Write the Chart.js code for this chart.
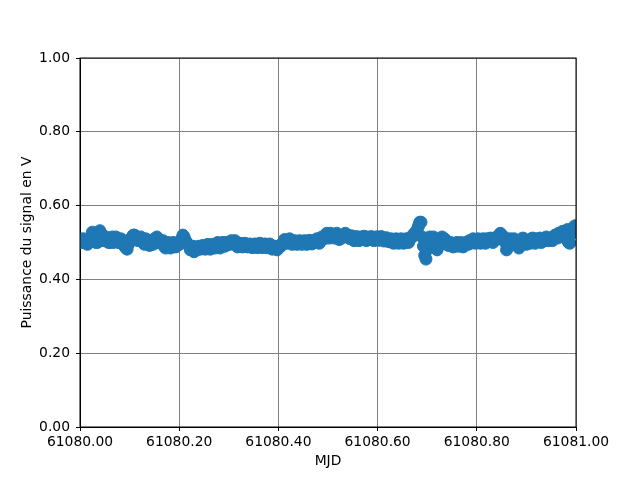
<!DOCTYPE html>
<html>
<head>
<meta charset="utf-8">
<script src="https://cdn.jsdelivr.net/npm/chart.js@4.4.1/dist/chart.umd.min.js"></script>
<style>
  html, body { margin: 0; padding: 0; background: #ffffff; }
  #wrap { width: 640px; height: 480px; }
</style>
</head>
<body>
<div id="wrap"><canvas id="mjdChart" width="640" height="480"></canvas></div>
<script>
// Puissance du signal sur une journée MJD (nuage de points)

const MJD_BASE = 61080;

// décalage en jours depuis MJD_BASE, échantillons sur les pas de 0.005 j
const mjdOffsets = [
    0.000, 0.005, 0.010, 0.015, 0.020, 0.025, 0.030, 0.035, 0.040, 0.045,
    0.050, 0.055, 0.060, 0.065, 0.070, 0.075, 0.080, 0.085, 0.090, 0.095,
    0.100, 0.105, 0.110, 0.115, 0.120, 0.125, 0.130, 0.135, 0.140, 0.145,
    0.150, 0.155, 0.160, 0.165, 0.170, 0.175, 0.180, 0.185, 0.190, 0.195,
    0.200, 0.205, 0.210, 0.215, 0.220, 0.225, 0.230, 0.235, 0.240, 0.245,
    0.250, 0.255, 0.260, 0.265, 0.270, 0.275, 0.280, 0.285, 0.290, 0.295,
    0.300, 0.305, 0.310, 0.315, 0.320, 0.325, 0.330, 0.335, 0.340, 0.345,
    0.350, 0.355, 0.360, 0.365, 0.370, 0.375, 0.380, 0.385, 0.390, 0.395,
    0.400, 0.405, 0.410, 0.415, 0.420, 0.425, 0.430, 0.435, 0.440, 0.445,
    0.450, 0.455, 0.460, 0.465, 0.470, 0.475, 0.480, 0.485, 0.490, 0.495,
    0.500, 0.505, 0.510, 0.515, 0.520, 0.525, 0.530, 0.535, 0.540, 0.545,
    0.550, 0.555, 0.560, 0.565, 0.570, 0.575, 0.580, 0.585, 0.590, 0.595,
    0.600, 0.605, 0.610, 0.615, 0.620, 0.625, 0.630, 0.635, 0.640, 0.645,
    0.650, 0.655, 0.660, 0.665, 0.670, 0.675, 0.680, 0.685, 0.690, 0.695,
    0.700, 0.705, 0.710, 0.715, 0.720, 0.725, 0.730, 0.735, 0.740, 0.745,
    0.750, 0.755, 0.760, 0.765, 0.770, 0.775, 0.780, 0.785, 0.790, 0.795,
    0.800, 0.805, 0.810, 0.815, 0.820, 0.825, 0.830, 0.835, 0.840, 0.845,
    0.850, 0.855, 0.860, 0.865, 0.870, 0.875, 0.880, 0.885, 0.890, 0.895,
    0.900, 0.905, 0.910, 0.915, 0.920, 0.925, 0.930, 0.935, 0.940, 0.945,
    0.950, 0.955, 0.960, 0.965, 0.970, 0.975, 0.980, 0.985, 0.990, 0.995,
    1.000
];

// puissance mesurée en V aux instants ci-dessus
const signalV = [
    0.510, 0.505, 0.500, 0.495, 0.505, 0.528, 0.510, 0.500, 0.532, 0.515,
    0.505, 0.510, 0.500, 0.515, 0.505, 0.510, 0.500, 0.505, 0.490, 0.482,
    0.500, 0.515, 0.520, 0.515, 0.510, 0.505, 0.495, 0.505, 0.492, 0.500,
    0.510, 0.515, 0.505, 0.500, 0.490, 0.495, 0.490, 0.495, 0.490, 0.490,
    0.495, 0.510, 0.515, 0.500, 0.490, 0.485, 0.475, 0.480, 0.490, 0.485,
    0.490, 0.485, 0.490, 0.485, 0.490, 0.495, 0.490, 0.495, 0.500, 0.495,
    0.500, 0.505, 0.500, 0.495, 0.490, 0.495, 0.490, 0.495, 0.490, 0.490,
    0.490, 0.495, 0.490, 0.495, 0.490, 0.495, 0.490, 0.490, 0.485, 0.485,
    0.485, 0.490, 0.500, 0.505, 0.505, 0.500, 0.500, 0.500, 0.500, 0.500,
    0.500, 0.500, 0.500, 0.500, 0.505, 0.500, 0.505, 0.505, 0.510, 0.520,
    0.520, 0.525, 0.520, 0.520, 0.515, 0.510, 0.520, 0.525, 0.520, 0.510,
    0.510, 0.510, 0.510, 0.515, 0.510, 0.510, 0.515, 0.510, 0.510, 0.510,
    0.515, 0.510, 0.510, 0.505, 0.510, 0.505, 0.500, 0.505, 0.500, 0.505,
    0.505, 0.500, 0.505, 0.510, 0.515, 0.525, 0.535, 0.555, 0.515, 0.465,
    0.480, 0.515, 0.505, 0.510, 0.480, 0.500, 0.515, 0.510, 0.500, 0.495,
    0.495, 0.490, 0.500, 0.495, 0.490, 0.495, 0.500, 0.505, 0.500, 0.505,
    0.505, 0.500, 0.505, 0.500, 0.510, 0.505, 0.510, 0.505, 0.515, 0.520,
    0.520, 0.515, 0.480, 0.500, 0.505, 0.510, 0.500, 0.485, 0.505, 0.510,
    0.495, 0.505, 0.510, 0.505, 0.510, 0.505, 0.500, 0.510, 0.515, 0.505,
    0.510, 0.515, 0.520, 0.525, 0.520, 0.530, 0.510, 0.500, 0.535, 0.540,
    0.545
];

// échantillons intermédiaires (entre deux pas de 0.005 j)
const mjdOffsetsMid = [
    0.0025, 0.0075, 0.0125, 0.0175, 0.0225, 0.0275, 0.0325, 0.0375, 0.0425, 0.0475,
    0.0525, 0.0575, 0.0625, 0.0675, 0.0725, 0.0775, 0.0825, 0.0875, 0.0925, 0.0975,
    0.1025, 0.1075, 0.1125, 0.1175, 0.1225, 0.1275, 0.1325, 0.1375, 0.1425, 0.1475,
    0.1525, 0.1575, 0.1625, 0.1675, 0.1725, 0.1775, 0.1825, 0.1875, 0.1925, 0.1975,
    0.2025, 0.2075, 0.2125, 0.2175, 0.2225, 0.2275, 0.2325, 0.2375, 0.2425, 0.2475,
    0.2525, 0.2575, 0.2625, 0.2675, 0.2725, 0.2775, 0.2825, 0.2875, 0.2925, 0.2975,
    0.3025, 0.3075, 0.3125, 0.3175, 0.3225, 0.3275, 0.3325, 0.3375, 0.3425, 0.3475,
    0.3525, 0.3575, 0.3625, 0.3675, 0.3725, 0.3775, 0.3825, 0.3875, 0.3925, 0.3975,
    0.4025, 0.4075, 0.4125, 0.4175, 0.4225, 0.4275, 0.4325, 0.4375, 0.4425, 0.4475,
    0.4525, 0.4575, 0.4625, 0.4675, 0.4725, 0.4775, 0.4825, 0.4875, 0.4925, 0.4975,
    0.5025, 0.5075, 0.5125, 0.5175, 0.5225, 0.5275, 0.5325, 0.5375, 0.5425, 0.5475,
    0.5525, 0.5575, 0.5625, 0.5675, 0.5725, 0.5775, 0.5825, 0.5875, 0.5925, 0.5975,
    0.6025, 0.6075, 0.6125, 0.6175, 0.6225, 0.6275, 0.6325, 0.6375, 0.6425, 0.6475,
    0.6525, 0.6575, 0.6625, 0.6675, 0.6725, 0.6775, 0.6825, 0.6875, 0.6925, 0.6975,
    0.7025, 0.7075, 0.7125, 0.7175, 0.7225, 0.7275, 0.7325, 0.7375, 0.7425, 0.7475,
    0.7525, 0.7575, 0.7625, 0.7675, 0.7725, 0.7775, 0.7825, 0.7875, 0.7925, 0.7975,
    0.8025, 0.8075, 0.8125, 0.8175, 0.8225, 0.8275, 0.8325, 0.8375, 0.8425, 0.8475,
    0.8525, 0.8575, 0.8625, 0.8675, 0.8725, 0.8775, 0.8825, 0.8875, 0.8925, 0.8975,
    0.9025, 0.9075, 0.9125, 0.9175, 0.9225, 0.9275, 0.9325, 0.9375, 0.9425, 0.9475,
    0.9525, 0.9575, 0.9625, 0.9675, 0.9725, 0.9775, 0.9825, 0.9875, 0.9925, 0.9975
];

const signalVMid = [
    0.500, 0.510, 0.505, 0.500, 0.515, 0.520, 0.500, 0.520, 0.525, 0.505,
    0.515, 0.500, 0.510, 0.500, 0.515, 0.500, 0.510, 0.495, 0.485, 0.495,
    0.510, 0.520, 0.510, 0.505, 0.515, 0.500, 0.510, 0.498, 0.505, 0.495,
    0.505, 0.510, 0.498, 0.505, 0.485, 0.500, 0.485, 0.500, 0.488, 0.495,
    0.505, 0.520, 0.505, 0.495, 0.480, 0.490, 0.478, 0.488, 0.482, 0.492,
    0.482, 0.495, 0.482, 0.495, 0.485, 0.500, 0.485, 0.500, 0.490, 0.500,
    0.495, 0.498, 0.505, 0.488, 0.498, 0.488, 0.498, 0.488, 0.496, 0.486,
    0.496, 0.486, 0.498, 0.486, 0.496, 0.486, 0.496, 0.482, 0.490, 0.480,
    0.492, 0.496, 0.508, 0.498, 0.510, 0.495, 0.505, 0.495, 0.505, 0.495,
    0.505, 0.495, 0.506, 0.496, 0.500, 0.510, 0.498, 0.515, 0.510, 0.525,
    0.512, 0.518, 0.512, 0.525, 0.508, 0.515, 0.515, 0.518, 0.512, 0.518,
    0.505, 0.516, 0.505, 0.508, 0.517, 0.505, 0.508, 0.516, 0.505, 0.515,
    0.506, 0.516, 0.504, 0.513, 0.502, 0.510, 0.498, 0.510, 0.498, 0.510,
    0.498, 0.510, 0.500, 0.515, 0.522, 0.530, 0.545, 0.555, 0.490, 0.455,
    0.500, 0.505, 0.515, 0.495, 0.490, 0.510, 0.500, 0.505, 0.492, 0.500,
    0.488, 0.498, 0.490, 0.500, 0.488, 0.500, 0.495, 0.498, 0.510, 0.498,
    0.510, 0.498, 0.510, 0.498, 0.505, 0.512, 0.500, 0.512, 0.510, 0.525,
    0.510, 0.500, 0.488, 0.510, 0.498, 0.505, 0.490, 0.498, 0.512, 0.500,
    0.505, 0.498, 0.512, 0.498, 0.502, 0.512, 0.505, 0.505, 0.508, 0.512,
    0.505, 0.520, 0.512, 0.515, 0.530, 0.520, 0.535, 0.498, 0.525, 0.545
];

const xTickLabels = ['61080.00', '61080.20', '61080.40', '61080.60', '61080.80', '61081.00'];
const yTickLabels = ['0.00', '0.20', '0.40', '0.60', '0.80', '1.00'];

const BLUE = '#1f77b4';
const FONT = { family: 'DejaVu Sans', size: 13.89 };

// cadre noir autour de la zone de tracé (comme les 4 axes matplotlib)
const frame = {
    id: 'frame',
    afterDraw(chart) {
        const { ctx, chartArea: a } = chart;
        ctx.save();
        ctx.strokeStyle = '#000';
        ctx.lineWidth = 1;
        ctx.strokeRect(a.left, a.top, a.right - a.left, a.bottom - a.top);
        ctx.restore();
    }
};

const points = mjdOffsets.map((d, i) => ({ x: MJD_BASE + d, y: signalV[i] }))
    .concat(mjdOffsetsMid.map((d, i) => ({ x: MJD_BASE + d, y: signalVMid[i] })));

const ctx = document.getElementById('mjdChart').getContext('2d');
new Chart(ctx, {
    type: 'scatter',
    data: {
        datasets: [{
            data: points,
            backgroundColor: BLUE,
            borderColor: BLUE,
            borderWidth: 1,
            pointRadius: 6,
            pointHoverRadius: 6
        }]
    },
    options: {
        responsive: false,
        animation: false,
        layout: { padding: { top: 58, right: 64, left: 0, bottom: 0 } },
        plugins: {
            legend: { display: false },
            tooltip: { enabled: false }
        },
        scales: {
            x: {
                type: 'linear',
                min: MJD_BASE,
                max: MJD_BASE + 1,
                afterBuildTicks: s => {
                    s.ticks = xTickLabels.map(t => ({ value: parseFloat(t) }));
                },
                afterFit: s => { s.height = 53; },
                ticks: {
                    color: '#000',
                    font: FONT,
                    padding: 3,
                    maxRotation: 0,
                    autoSkip: false,
                    callback: (v, i) => xTickLabels[i]
                },
                grid: { color: '#808080', lineWidth: 1, tickColor: '#000', tickLength: 4 },
                border: { color: '#000' },
                title: { display: true, text: 'MJD', color: '#000', font: FONT, padding: { top: 10, bottom: 10 } }
            },
            y: {
                min: 0,
                max: 1,
                afterBuildTicks: s => {
                    s.ticks = yTickLabels.map(t => ({ value: parseFloat(t) }));
                },
                afterFit: s => { s.width = 80; },
                ticks: {
                    color: '#000',
                    font: FONT,
                    padding: 6,
                    autoSkip: false,
                    callback: (v, i) => yTickLabels[i]
                },
                grid: { color: '#808080', lineWidth: 1, tickColor: '#000', tickLength: 4 },
                border: { color: '#000' },
                title: { display: true, text: 'Puissance du signal en V', color: '#000', font: FONT, padding: { top: 19, bottom: 19 } }
            }
        }
    },
    plugins: [frame]
});
</script>
</body>
</html>
